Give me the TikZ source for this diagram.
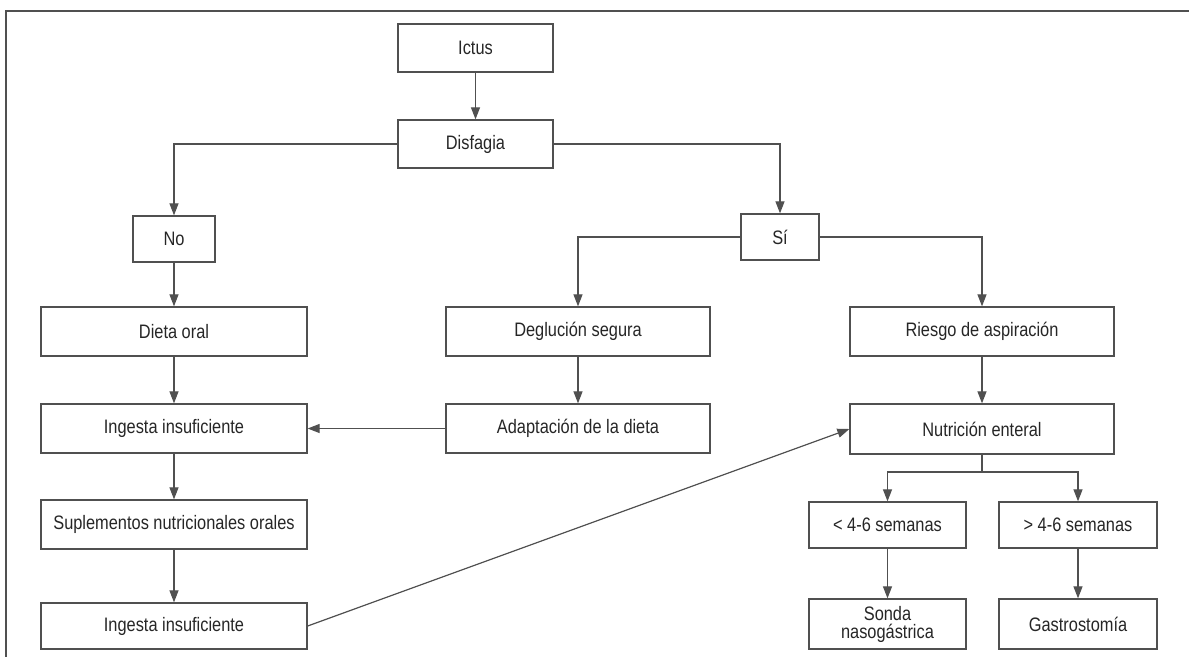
\documentclass[tikz,border=0pt]{standalone}
\usepackage{fontspec}
\setmainfont{Liberation Sans}[FakeStretch=0.84]
\usetikzlibrary{arrows.meta}
\definecolor{linec}{HTML}{505050}
\definecolor{txtc}{HTML}{262626}
\begin{document}
\begin{tikzpicture}[x=1pt,y=-1pt,
  box/.style={draw=linec,line width=1.3pt,text=txtc,inner sep=2pt,align=center,
    font=\fontsize{19.5}{19.5}\selectfont},
  conn/.style={draw=linec,line width=1.2pt,-{Triangle[length=12pt,width=9pt]}},
  plain/.style={draw=linec,line width=1.2pt}]
\useasboundingbox (0,0) rectangle (1189,657);
\draw[draw=linec,line width=2.4pt] (1189,11) -- (6,11) -- (6,657);
\node[box,minimum width=155pt,minimum height=48pt] (ictus) at (475.5,48) {Ictus};
\node[box,minimum width=155pt,minimum height=48pt] (disf) at (475.5,144) {Disfagia};
\node[box,minimum width=82pt,minimum height=46pt] (no) at (174,239) {No};
\node[box,minimum width=78pt,minimum height=46pt] (si) at (780,237) {Sí};
\node[box,minimum width=266pt,minimum height=49pt] (dieta) at (174,331.5) {Dieta oral};
\node[box,minimum width=264pt,minimum height=49pt] (degl) at (578,331.5) {Deglución segura};
\node[box,minimum width=264pt,minimum height=49pt] (riesgo) at (982,331.5) {Riesgo de aspiración};
\node[box,minimum width=266pt,minimum height=49pt] (ing1) at (174,428.5) {Ingesta insuficiente};
\node[box,minimum width=264pt,minimum height=49pt] (adapt) at (578,428.5) {Adaptación de la dieta};
\node[box,minimum width=264pt,minimum height=50pt] (nutr) at (982,429) {Nutrición enteral};
\node[box,minimum width=266pt,minimum height=49pt] (supl) at (174,524.5) {Suplementos nutricionales orales};
\node[box,minimum width=266pt,minimum height=46pt] (ing2) at (174,626) {Ingesta insuficiente};
\node[box,minimum width=157pt,minimum height=46pt] (lt) at (887.5,525) {< 4-6 semanas};
\node[box,minimum width=158pt,minimum height=46pt] (gt) at (1078,525) {> 4-6 semanas};
\node[box,minimum width=157pt,minimum height=50pt,font=\fontsize{19.5}{18}\selectfont] (sonda) at (887.5,624) {Sonda\\nasogástrica};
\node[box,minimum width=158pt,minimum height=50pt] (gastro) at (1078,624) {Gastrostomía};
\coordinate (split) at (982,472);
\draw[conn] (ictus) -- (disf);
\draw[conn] (disf.west) -| (no.north);
\draw[conn] (disf.east) -| (si.north);
\draw[conn] (si.west) -| (degl.north);
\draw[conn] (si.east) -| (riesgo.north);
\draw[conn] (no) -- (dieta);
\draw[conn] (dieta) -- (ing1);
\draw[conn] (ing1) -- (supl);
\draw[conn] (supl) -- (ing2);
\draw[conn] (degl) -- (adapt);
\draw[conn] (adapt.west) -- (ing1.east);
\draw[conn] (riesgo) -- (nutr);
\draw[conn] (ing2.east) -- (nutr.west);
\draw[plain] (nutr.south) -- (split);
\draw[conn] (split) -| (lt.north);
\draw[conn] (split) -| (gt.north);
\draw[conn] (lt) -- (sonda);
\draw[conn] (gt) -- (gastro);
\end{tikzpicture}
\end{document}
